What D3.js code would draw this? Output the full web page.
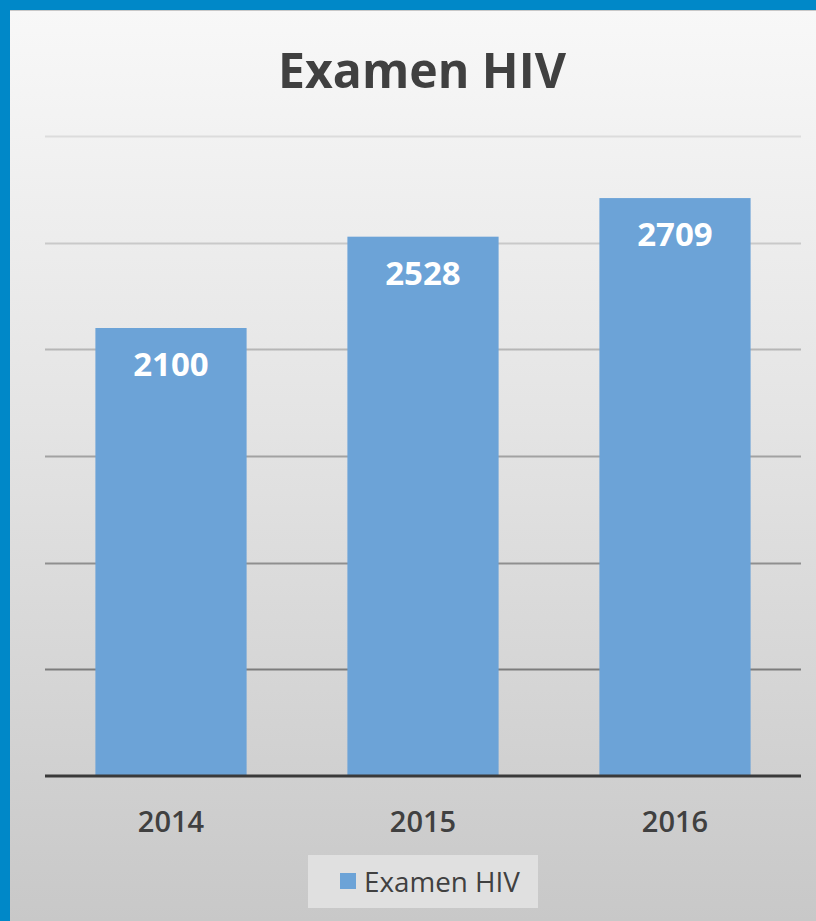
<!DOCTYPE html>
<html><head><meta charset="utf-8">
<script src="https://cdn.jsdelivr.net/npm/d3@7"></script>
<style>html,body{margin:0;padding:0;background:#0088c8;overflow:hidden}</style>
</head><body>
<script>
const title = "Examen HIV";
const seriesName = "Examen HIV";
const categories = ["2014", "2015", "2016"];
const values = [2100, 2528, 2709];
const yTicks = [0, 500, 1000, 1500, 2000, 2500, 3000];

const W = 816, H = 921;
const svg = d3.select("body").append("svg").attr("width", W).attr("height", H);
const defs = svg.append("defs");
const bg = defs.append("linearGradient").attr("id","bg").attr("x1",0).attr("y1",0).attr("x2",0).attr("y2",1);
bg.append("stop").attr("offset","0%").attr("stop-color","#f8f8f8");
bg.append("stop").attr("offset","45%").attr("stop-color","#e4e4e4");
bg.append("stop").attr("offset","100%").attr("stop-color","#c8c8c8");

svg.append("rect").attr("width",W).attr("height",H).attr("fill","#0088c8");
svg.append("rect").attr("x",10).attr("y",10).attr("width",W-10).attr("height",H-10).attr("fill","url(#bg)");
svg.append("line").attr("x1",10).attr("x2",W).attr("y1",10.5).attr("y2",10.5).attr("stroke","#c8c8c8").attr("stroke-width",1);

const x = d3.scaleBand().domain(categories).range([45, 801]).paddingInner(0.4).paddingOuter(0.2);
const y = d3.scaleLinear().domain([0, 3000]).range([776, 136]);

const gridColor = d3.scaleLinear().domain([3000, 500]).range(["#dcdcdc", "#7c7c7c"]);
svg.append("g").selectAll("line").data(yTicks.filter(d => d > 0)).join("line")
  .attr("x1", 45).attr("x2", 801)
  .attr("y1", d => Math.round(y(d)) + 0.5).attr("y2", d => Math.round(y(d)) + 0.5)
  .attr("stroke", d => gridColor(d)).attr("stroke-width", 2);

svg.append("g").selectAll("rect").data(values).join("rect")
  .attr("x", (d,i) => x(categories[i])).attr("width", x.bandwidth())
  .attr("y", d => y(d)).attr("height", d => y(0) - y(d))
  .attr("fill", "#6ca3d7");

svg.append("line").attr("x1",45).attr("x2",801).attr("y1",y(0)).attr("y2",y(0))
  .attr("stroke","#3a3a3a").attr("stroke-width",3);

svg.append("g").selectAll("text").data(values).join("text")
  .attr("x", (d,i) => x(categories[i]) + x.bandwidth()/2)
  .attr("y", d => y(d) + 48)
  .attr("text-anchor","middle").attr("fill","#ffffff")
  .attr("font-family","'Open Sans', sans-serif").attr("font-weight",700).attr("font-size",33)
  .text(d => d);

const xAxis = svg.append("g").attr("transform", `translate(0,${y(0)})`)
  .call(d3.axisBottom(x).tickSize(0).tickPadding(0));
xAxis.select(".domain").remove();
xAxis.selectAll("text").attr("dy", null).attr("y", 56)
  .attr("fill","#404040").attr("font-family","'Open Sans', sans-serif")
  .attr("font-weight",600).attr("font-size",29);

const t = svg.append("text").attr("x", 422).attr("y", 88).attr("text-anchor","middle")
  .attr("fill","#404040").attr("font-family","'Open Sans', sans-serif")
  .attr("font-weight",700).attr("font-size",48).text(title);
const tl = t.node().getComputedTextLength();
t.attr("font-size", 48 * 288 / tl);

const lg = svg.append("g");
lg.append("rect").attr("x",308).attr("y",855).attr("width",230).attr("height",53).attr("fill","#e0e0e0");
lg.append("rect").attr("x",340).attr("y",873).attr("width",16).attr("height",16).attr("fill","#6ca3d7");
const lt = lg.append("text").attr("x",364).attr("y",892).attr("fill","#404040")
  .attr("font-family","'Open Sans', sans-serif").attr("font-size",26).text(seriesName);
const ll = lt.node().getComputedTextLength();
lt.attr("font-size", 26 * 156 / ll);
</script>
</body></html>
